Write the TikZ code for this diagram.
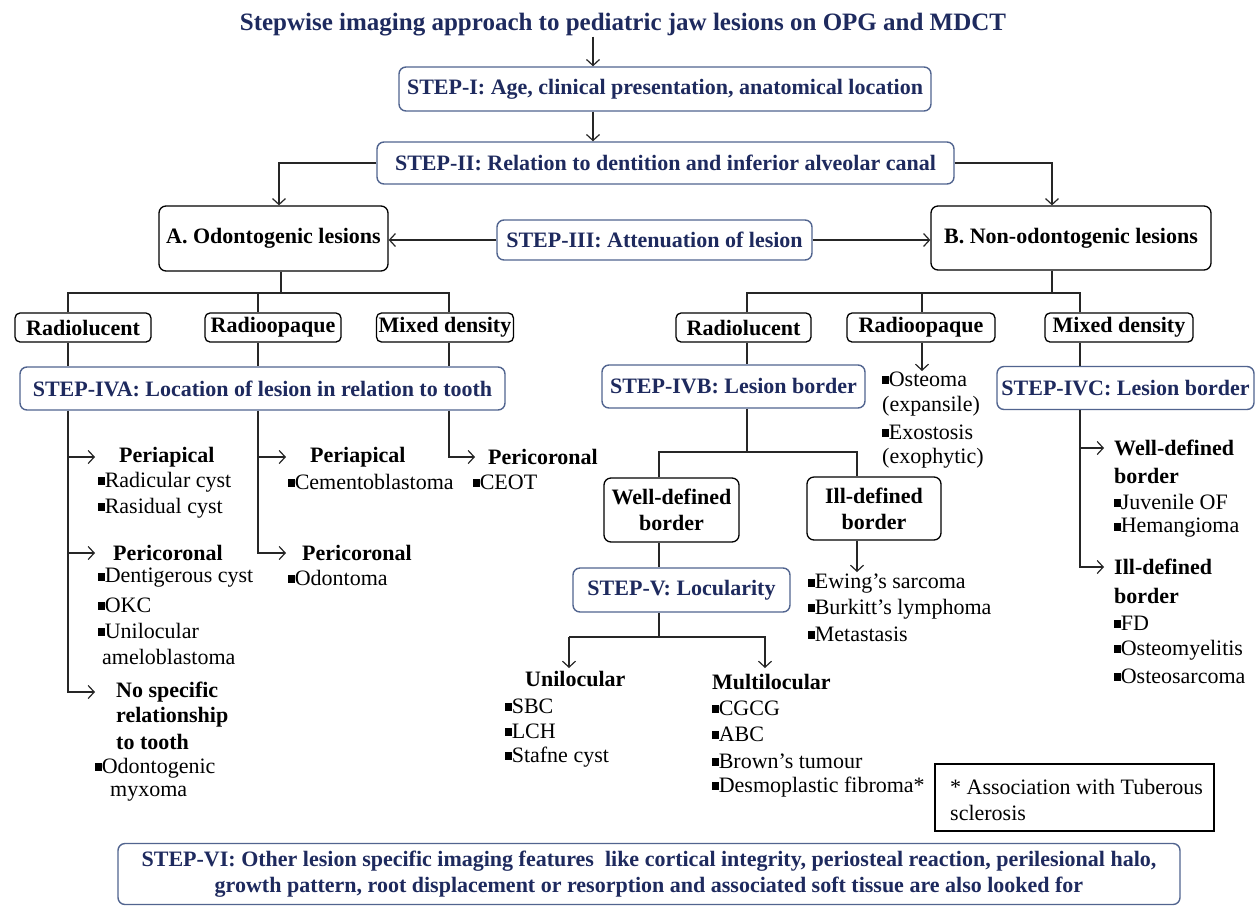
\documentclass[tikz,border=0pt]{standalone}
\usepackage{fontspec}
\setmainfont{Liberation Serif}
\usetikzlibrary{arrows.meta}
\definecolor{navy}{HTML}{1E2A5E}
\definecolor{stepedge}{HTML}{51648F}
\newcommand\bul{\rule[0.1em]{0.3em}{0.36em}}
\begin{document}
\begin{tikzpicture}[x=1pt,y=-1pt,
  fs/.style={font=\fontsize{22}{26}\selectfont},
  fsb/.style={font=\fontsize{22}{26}\selectfont\bfseries},
  stepbox/.style={draw=stepedge, line width=1.4pt, rounded corners=7pt, fill=white, text=navy, fsb, inner sep=0pt, align=center},
  blkbox/.style={draw=black, line width=1.3pt, rounded corners=7pt, fill=white, fsb, inner sep=0pt, align=center},
  lbl/.style={anchor=west, inner sep=0pt, fs},
  hd/.style={anchor=west, inner sep=0pt, fsb},
  conn/.style={line width=1.2pt, draw=black!85},
  arr/.style={conn, -{Straight Barb[length=6pt,width=13pt]}}]
\useasboundingbox[fill=white] (0,0) rectangle (1256,906);

% ---- top ----
\node[text=navy, font=\fontsize{25}{28}\selectfont\bfseries, inner sep=0pt] (title) at (623,25) {Stepwise imaging approach to pediatric jaw lesions on OPG and MDCT};
\node[stepbox, minimum width=532, minimum height=44] (s1) at (665,89) {STEP-I: Age, clinical presentation, anatomical location};
\node[stepbox, minimum width=577, minimum height=42] (s2) at (665.5,163) {STEP-II: Relation to dentition and inferior alveolar canal};
\node[blkbox, minimum width=229, minimum height=65] (A) at (273.5,238.5) {A. Odontogenic lesions};
\node[stepbox, minimum width=315, minimum height=40] (s3) at (654.5,240) {STEP-III: Attenuation of lesion};
\node[blkbox, minimum width=280, minimum height=64] (B) at (1071,238) {B. Non-odontogenic lesions};

\coordinate (x593) at (593,0);
\coordinate (xA) at (279,0);
\coordinate (xB) at (1052,0);
\draw[arr] (title.south -| x593) -- (s1.north -| x593);
\draw[arr] (s1.south -| x593) -- (s2.north -| x593);
\draw[arr] (s2.west) -| (A.north -| xA);
\draw[arr] (s2.east) -| (B.north -| xB);
\draw[arr] (s3.west) -- (s3.west -| A.east);
\draw[arr] (s3.east) -- (s3.east -| B.west);

% ---- odontogenic ----
\node[blkbox, rounded corners=5pt, minimum width=136, minimum height=29] (rl1) at (83,327.5) {Radiolucent};
\node[blkbox, rounded corners=5pt, minimum width=136, minimum height=29] (ro1) at (273,327.5) {Radioopaque};
\node[blkbox, rounded corners=5pt, minimum width=137, minimum height=29] (md1) at (445,327.5) {Mixed density};
\node[stepbox, minimum width=485, minimum height=43] (s4a) at (262.5,388.5) {STEP-IVA: Location of lesion in relation to tooth};

\coordinate (hA) at (281,293);
\coordinate (xl) at (68,0);
\coordinate (xm) at (258,0);
\coordinate (xr) at (449,0);
\draw[conn] (A.south -| hA) -- (hA);
\draw[conn] (rl1.north -| xl) -- (xl |- hA) -- (xr |- hA) -- (md1.north -| xr);
\draw[conn] (xm |- hA) -- (ro1.north -| xm);
\draw[conn] (rl1.south -| xl) -- (s4a.north -| xl);
\draw[conn] (ro1.south -| xm) -- (s4a.north -| xm);
\draw[conn] (md1.south -| xr) -- (s4a.north -| xr);

% left column
\node[hd] (lpa) at (119,457) {Periapical};
\node[lbl] (l1) at (98,482) {\bul Radicular cyst};
\node[lbl] (l2) at (98,508) {\bul Rasidual cyst};
\node[hd] (lpc) at (113,553) {Pericoronal};
\node[lbl] (l3) at (98,578) {\bul Dentigerous cyst};
\node[lbl] (l4) at (98,605) {\bul OKC};
\node[lbl] (l5) at (98,631) {\bul Unilocular};
\node[lbl] (l6) at (102,657) {ameloblastoma};
\node[hd] (lns1) at (116,692) {No specific};
\node[hd] (lns2) at (116,717) {relationship};
\node[hd] (lns3) at (116,742) {to tooth};
\node[lbl] (l7) at (95,768) {\bul Odontogenic};
\node[lbl] (l8) at (110,794) {myxoma};
\coordinate (e1) at (95,457);
\coordinate (e2) at (95,553);
\coordinate (e3) at (95,692);
\draw[arr] (s4a.south -| xl) |- (e3);
\draw[arr] (xl |- e1) -- (e1);
\draw[arr] (xl |- e2) -- (e2);

% middle column
\node[hd] (mpa) at (310,457) {Periapical};
\node[lbl] (m1) at (288,482) {\bul Cementoblastoma};
\node[hd] (mpc) at (302,553) {Pericoronal};
\node[lbl] (m2) at (288,578) {\bul Odontoma};
\coordinate (e4) at (286,457);
\coordinate (e5) at (286,553);
\draw[arr] (s4a.south -| xm) |- (e5);
\draw[arr] (xm |- e4) -- (e4);

% right column
\node[hd] (rpc) at (488,457) {Pericoronal};
\node[lbl] (r1) at (473,482) {\bul CEOT};
\coordinate (e6) at (475,457);
\draw[arr] (s4a.south -| xr) |- (e6);

% ---- non-odontogenic ----
\node[blkbox, rounded corners=5pt, minimum width=135, minimum height=29] (rl2) at (743.5,327.5) {Radiolucent};
\node[blkbox, rounded corners=5pt, minimum width=148, minimum height=29] (ro2) at (921,327.5) {Radioopaque};
\node[blkbox, rounded corners=5pt, minimum width=148, minimum height=29] (md2) at (1119,327.5) {Mixed density};
\node[stepbox, minimum width=263, minimum height=43] (s4b) at (733.5,386.5) {STEP-IVB: Lesion border};
\node[stepbox, minimum width=257, minimum height=43] (s4c) at (1125.5,388) {STEP-IVC: Lesion border};

\coordinate (hB) at (1052,293);
\coordinate (xrl) at (747,0);
\coordinate (xro) at (922,0);
\coordinate (xmd) at (1080,0);
\draw[conn] (B.south -| hB) -- (hB);
\draw[conn] (rl2.north -| xrl) -- (xrl |- hB) -- (xmd |- hB) -- (md2.north -| xmd);
\draw[conn] (xro |- hB) -- (ro2.north -| xro);
\draw[conn] (rl2.south -| xrl) -- (s4b.north -| xrl);
\draw[conn] (md2.south -| xmd) -- (s4c.north -| xmd);

\node[lbl] (o1) at (882,379) {\bul Osteoma};
\node[lbl] (o2) at (882,406) {(expansile)};
\node[lbl] (o3) at (882,432) {\bul Exostosis};
\node[lbl] (o4) at (882,458) {(exophytic)};
\coordinate (e7) at (922,371);
\draw[arr] (ro2.south -| xro) -- (e7);

% IVB branch
\node[blkbox, minimum width=135, minimum height=64] (wd) at (671.5,510) {Well-defined\\border};
\node[blkbox, minimum width=134, minimum height=63] (id) at (874,508.5) {Ill-defined\\border};
\coordinate (hC) at (747,452);
\coordinate (xwd) at (659,0);
\coordinate (xid) at (857,0);
\draw[conn] (s4b.south -| xrl) -- (hC);
\draw[conn] (wd.north -| xwd) -- (xwd |- hC) -- (xid |- hC) -- (id.north -| xid);

\node[stepbox, minimum width=217, minimum height=44] (s5) at (681.5,590) {STEP-V: Locularity};
\draw[conn] (wd.south -| xwd) -- (s5.north -| xwd);

\node[lbl] (i1) at (808,584) {\bul Ewing’s sarcoma};
\node[lbl] (i2) at (808,609) {\bul Burkitt’s lymphoma};
\node[lbl] (i3) at (808,634) {\bul Metastasis};
\coordinate (e8) at (857,572);
\draw[arr] (id.south -| xid) -- (e8);

% STEP-V branch
\coordinate (hD) at (659,637);
\coordinate (xu) at (569,0);
\coordinate (xmu) at (765,0);
\coordinate (e9) at (569,668);
\coordinate (e10) at (765,668);
\draw[conn] (s5.south -| xwd) -- (hD);
\draw[arr] (xu |- hD) -- (e9);
\draw[arr] (xu |- hD) -- (xmu |- hD) -- (e10);

\node[hd] (u0) at (525,679) {Unilocular};
\node[lbl] (u1) at (505,706) {\bul SBC};
\node[lbl] (u2) at (505,731) {\bul LCH};
\node[lbl] (u3) at (505,757) {\bul Stafne cyst};
\node[hd] (mu0) at (712,682) {Multilocular};
\node[lbl] (mu1) at (712,708) {\bul CGCG};
\node[lbl] (mu2) at (712,734) {\bul ABC};
\node[lbl] (mu3) at (712,761) {\bul Brown’s tumour};
\node[lbl] (mu4) at (712,787) {\bul Desmoplastic fibroma*};

% IVC branch
\node[hd] (c1) at (1114,448) {Well-defined};
\node[hd] (c2) at (1114,476) {border};
\node[lbl] (c3) at (1114,502) {\bul Juvenile OF};
\node[lbl] (c4) at (1114,528) {\bul Hemangioma};
\node[hd] (c5) at (1114,567) {Ill-defined};
\node[hd] (c6) at (1114,596) {border};
\node[lbl] (c7) at (1114,623) {\bul FD};
\node[lbl] (c8) at (1114,650) {\bul Osteomyelitis};
\node[lbl] (c9) at (1114,676) {\bul Osteosarcoma};
\coordinate (e11) at (1104,448);
\coordinate (e12) at (1104,567);
\draw[arr] (s4c.south -| xmd) |- (e12);
\draw[arr] (xmd |- e11) -- (e11);

% note
\node[draw=black, line width=1.3pt, minimum width=279, minimum height=67, inner sep=0pt] (note) at (1074.5,797.5) {};
\node[lbl] (n1) at (950,787) {* Association with Tuberous};
\node[lbl] (n2) at (950,813) {sclerosis};

% STEP-VI
\node[stepbox, minimum width=1062, minimum height=61] (s6) at (649,874) {STEP-VI: Other lesion specific imaging features \ like cortical integrity, periosteal reaction, perilesional halo,\\growth pattern, root displacement or resorption and associated soft tissue are also looked for};
\end{tikzpicture}
\end{document}
